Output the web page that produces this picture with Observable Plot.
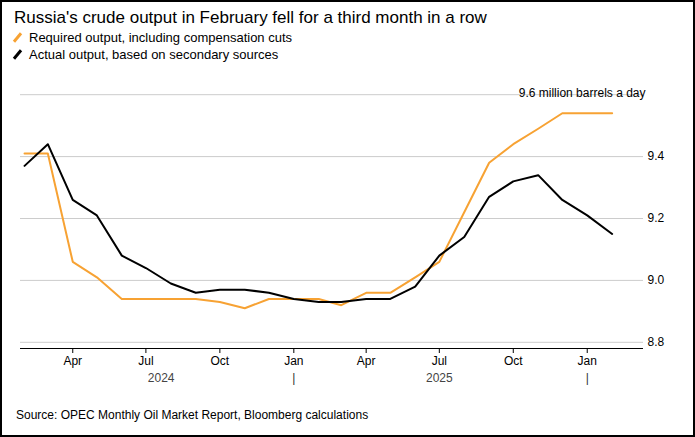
<!DOCTYPE html>
<html><head><meta charset="utf-8">
<script src="https://cdn.jsdelivr.net/npm/d3@7"></script>
<script src="https://cdn.jsdelivr.net/npm/@observablehq/plot@0.6"></script>
<style>
body{margin:0;font-family:"Liberation Sans",Arial,sans-serif;}
#wrap{width:691px;height:433px;border:2px solid #000;position:relative;overflow:hidden;background:#fff}
h1{font-size:17px;font-weight:normal;margin:6px 0 0 12px;color:#000}
.lg{font-size:13px;margin:2px 0 0 14px;display:flex;align-items:center}
.lg i{display:inline-block;width:3px;height:11px;transform:rotate(40deg);margin-right:10px}
#src{position:absolute;left:14px;top:406px;font-size:12px}
#chart{position:absolute;left:0;top:82px}
</style></head><body>
<div id="wrap">
<h1>Russia's crude output in February fell for a third month in a row</h1>
<div class="lg"><i style="background:#f7a233"></i>Required output, including compensation cuts</div>
<div class="lg"><i style="background:#000"></i>Actual output, based on secondary sources</div>
<div id="chart"></div>
<div id="src">Source: OPEC Monthly Oil Market Report, Bloomberg calculations</div>
</div>
<script>
const months = ["2024-02","2024-03","2024-04","2024-05","2024-06","2024-07","2024-08","2024-09","2024-10","2024-11","2024-12","2025-01","2025-02","2025-03","2025-04","2025-05","2025-06","2025-07","2025-08","2025-09","2025-10","2025-11","2025-12","2026-01","2026-02"];
const actual = [9.37,9.44,9.26,9.21,9.08,9.04,8.99,8.96,8.97,8.97,8.96,8.94,8.93,8.93,8.94,8.94,8.98,9.08,9.14,9.27,9.32,9.34,9.26,9.21,9.15];
const required = [9.41,9.41,9.06,9.01,8.94,8.94,8.94,8.94,8.93,8.91,8.94,8.94,8.94,8.92,8.96,8.96,9.01,9.06,9.22,9.38,9.44,9.49,9.54,9.54,9.54];
const yTicks = [8.8,9.0,9.2,9.4,9.6];
const years = [{label:"2024",date:"2024-07-20"},{label:"2025",date:"2025-07-01"}];
const seps = ["2025-01-01","2026-01-01"];
const P = d => new Date(d+(d.length===7?"-01":"")+"T00:00:00Z");
const dA = months.map((m,i)=>({date:P(m),v:actual[i]}));
const dR = months.map((m,i)=>({date:P(m),v:required[i]}));
const chart = Plot.plot({
  width:691,height:318,marginLeft:18,marginRight:50,marginTop:4,marginBottom:54,
  style:{fontFamily:"Liberation Sans, Arial, sans-serif",fontSize:"12px",color:"#000"},
  x:{type:"utc",domain:[P("2024-01-27"),P("2026-03-12")],label:null},
  y:{domain:[8.78,9.62],label:null},
  marks:[
    Plot.gridY(yTicks,{stroke:"#ccc",strokeOpacity:1}),
    Plot.axisY(yTicks,{anchor:"right",tickSize:0,tickPadding:4,tickFormat:d=>d===9.6?"":d.toFixed(1)}),
    Plot.text([9.6],{x:P("2026-03-12"),y:d=>d,text:()=>"9.6 million barrels a day",textAnchor:"end",dx:2,dy:-2,fontSize:12}),
    Plot.ruleY([8.78],{stroke:"#000"}),
    Plot.axisX({ticks:d3.utcMonth.every(3).range(P("2024-04"),P("2026-02")),tickFormat:d3.utcFormat("%b"),tickSize:5,tickPadding:3}),
    Plot.text(years,{x:d=>P(d.date),y:8.78,text:"label",dy:30,fill:"#444",fontSize:12}),
    Plot.text(seps,{x:d=>P(d),y:8.78,text:()=>"|",dy:30,fill:"#333"}),
    Plot.line(dR,{x:"date",y:"v",stroke:"#f7a233",strokeWidth:2}),
    Plot.line(dA,{x:"date",y:"v",stroke:"#000",strokeWidth:2})
  ]
});
document.getElementById("chart").append(chart);
</script>
</body></html>
